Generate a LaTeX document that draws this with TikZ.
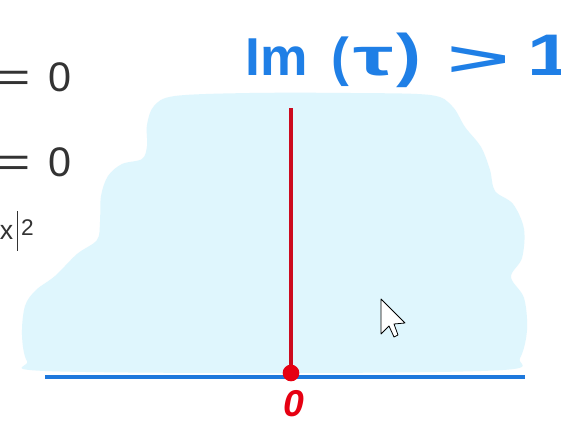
\documentclass[tikz,border=0pt]{standalone}
\usepackage{fontspec}
\setmainfont{Liberation Sans}
\usepackage{tikz}
\usetikzlibrary{positioning}
\definecolor{cloudsoft}{HTML}{DFF6FD}
\definecolor{pen}{HTML}{1F7FE6}
\definecolor{axisblue}{HTML}{1E78DC}
\definecolor{redpen}{HTML}{CC0A1E}
\definecolor{reddot}{HTML}{E60012}
\definecolor{slide}{HTML}{333333}

\begin{document}
\begin{tikzpicture}[x=0.75pt,y=-0.75pt,
  cloud/.style={fill=cloudsoft},
  axisline/.style={draw=axisblue,line width=2.8pt},
  redline/.style={draw=redpen,line width=2.4pt},
  dot/.style={circle,fill=reddot,inner sep=0pt,minimum size=12.5pt},
  hand/.style={text=pen,font=\fontsize{40}{44}\selectfont\bfseries,inner sep=0pt},
  slidetext/.style={text=slide,font=\fontsize{31}{36}\selectfont,inner sep=0pt},
  zerolabel/.style={text=reddot,font=\fontsize{28}{32}\selectfont\bfseries\itshape,inner sep=0pt},
  cursor/.style={draw=black,fill=white,line width=0.6pt,line join=round},
]
  \useasboundingbox (0,0) rectangle (561,423);
  \clip (0,0) rectangle (561,423);
  \fill[white] (0,0) rectangle (561,423);

  % shaded region
  \fill[cloud] plot[smooth cycle,tension=0.55] coordinates {
    (147,125) (154,106) (175,96) (250,93) (350,93) (430,95) (452,106)
    (465,127) (481,147) (490,170) (495,191) (513,204) (524,229) (522,258)
    (511,277) (524,298) (527,330) (520,358) (503,370) (300,373) (45,371)
    (27,361) (22,335) (25,306) (36,290) (55,276) (77,254) (97,240)
    (100,222) (101,196) (108,176) (122,164) (142,159) (147,146)};

  % axis and imaginary line
  \coordinate (axl) at (45,377);
  \coordinate (axr) at (525,377);
  \draw[axisline] (axl) -- (axr);
  \coordinate (top) at (291,108);
  \coordinate (base) at (291,373);
  \draw[redline] (base) -- (top);
  \node[dot] (zero) at (base) {};
  \node[zerolabel] (lbl) at (294,404) {0};

  % handwritten condition
  \node[hand,anchor=base west] (cond) at (245,76)
    {Im\hspace{18pt}(\hspace{3pt}\scalebox{1.7}[1]{τ}\hspace{2pt}\scalebox{1.4}[1.1]{)}\hspace{20pt}%
     \scalebox{2}[0.9]{>}\hspace{13pt}\scalebox{1.5}[1.1]{1}};

  % cut-off slide text
  \node[slidetext,anchor=base east] (eqa) at (72,92) {\scalebox{1.6}[1]{=}\hspace{13pt}0};
  \node[slidetext,anchor=base east] (eqb) at (72,177) {\scalebox{1.6}[1]{=}\hspace{13pt}0};
  \node[text=slide,font=\fontsize{20}{24}\selectfont,inner sep=0pt,anchor=base east]
    (nrm) at (34,240) {x\hspace{3pt}\rule[-8pt]{0.9pt}{30pt}\hspace{2pt}\raisebox{3pt}{\fontsize{17}{19}\selectfont 2}};

  % pointer
  \draw[cursor] (381,299) -- (381,334) -- (389,326) -- (394,337) -- (398,335)
    -- (394,324) -- (405,323) -- cycle;
\end{tikzpicture}
\end{document}
